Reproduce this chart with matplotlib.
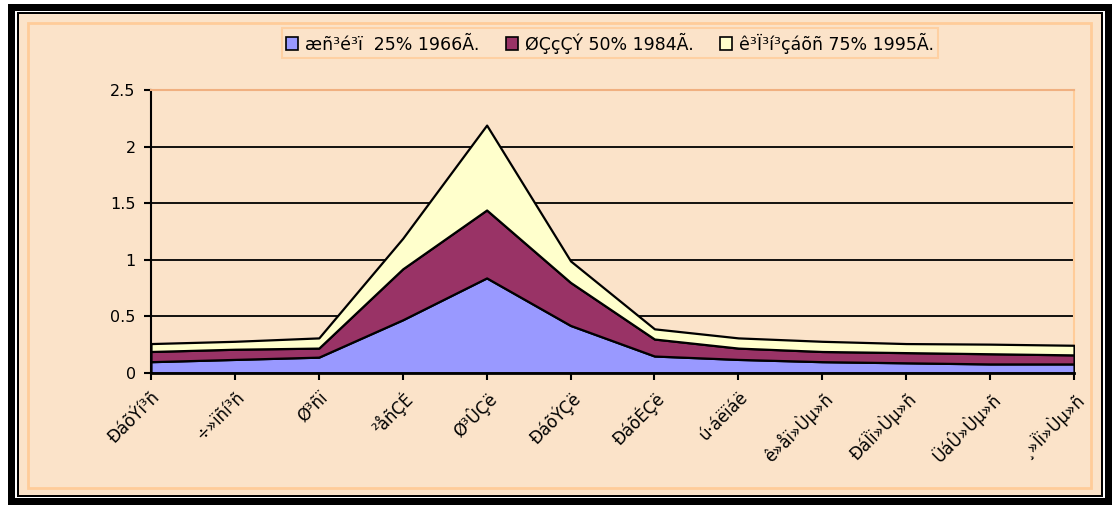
import matplotlib.pyplot as plt
from matplotlib.patches import Rectangle, Patch

# category labels (ArmSCII text as shown in the source)
months = ['ÐáõÝí³ñ', '÷»ïñí³ñ', 'Ø³ñï', '²åñÇÉ', 'Ø³ÛÇë', 'ÐáõÝÇë',
          'ÐáõÉÇë', 'ú·áëïáë', 'ê»åï»Ùµ»ñ', 'ÐáÏï»Ùµ»ñ', 'ÜáÛ»Ùµ»ñ', '¸»Ïï»Ùµ»ñ']

series_names = ['æñ³é³ï  25% 1966Ã.', 'ØÇçÇÝ 50% 1984Ã.', 'ê³Ï³í³çáõñ 75% 1995Ã.']
wet = [0.10, 0.12, 0.14, 0.47, 0.84, 0.42, 0.15, 0.12, 0.10, 0.09, 0.08, 0.08]
mid = [0.09, 0.09, 0.08, 0.45, 0.60, 0.38, 0.15, 0.10, 0.09, 0.09, 0.09, 0.08]
dry = [0.07, 0.07, 0.09, 0.27, 0.75, 0.19, 0.09, 0.09, 0.09, 0.08, 0.085, 0.085]

colors = ['#9999FF', '#993366', '#FFFFCC']
beige = '#FBE3C9'
orange = '#FFCC99'

W, H = 1112, 505
fig = plt.figure(figsize=(W / 100, H / 100), dpi=100)
fig.patch.set_facecolor('white')


def frame(x0, y0, x1, y1, fc='none', ec='none', lw=0):
    # rectangle in pixel coords, origin top-left
    fig.patches.append(Rectangle((x0 / W, 1 - y1 / H), (x1 - x0) / W, (y1 - y0) / H,
                                 transform=fig.transFigure, facecolor=fc,
                                 edgecolor=ec, linewidth=lw, zorder=-10))


frame(8, 4, W, H, fc='black')
frame(15, 11, 1105, 498, fc='white')
frame(17, 12, 1103, 497, fc='black')
frame(19, 14, 1101, 495, fc=beige)
frame(28, 23, 1091, 488, ec=orange, lw=2)

ax = fig.add_axes([151 / W, 1 - 373 / H, (1074 - 151) / W, (373 - 90) / H])
ax.set_facecolor(beige)

x = list(range(len(months)))
ax.stackplot(x, wet, mid, dry, colors=colors, edgecolor='black', linewidth=1.6, zorder=3)

ax.set_xlim(0, len(months) - 1)
ax.set_ylim(0, 2.5)
ax.set_yticks([0, 0.5, 1, 1.5, 2, 2.5])
ax.set_yticklabels(['0', '0.5', '1', '1.5', '2', '2.5'], fontsize=11.5)
ax.set_xticks(x)
ax.set_xticklabels(months, rotation=45, ha='right', rotation_mode='anchor', fontsize=12)
ax.tick_params(axis='both', direction='out', length=5, width=1.5, colors='black')
ax.tick_params(axis='x', pad=6)
ax.tick_params(axis='y', pad=6)

for yv in [0.5, 1, 1.5, 2]:
    ax.axhline(yv, color='black', linewidth=1.3, zorder=1)

ax.spines['top'].set_color('#F0B080')
ax.spines['top'].set_linewidth(1.5)
ax.spines['right'].set_color(orange)
ax.spines['right'].set_linewidth(1.5)
ax.spines['left'].set_linewidth(1.5)
ax.spines['bottom'].set_linewidth(2)
ax.spines['bottom'].set_zorder(5)

handles = [Patch(facecolor=c, edgecolor='black', linewidth=1.2) for c in colors]
leg = fig.legend(handles, series_names, ncol=3, loc='center',
                 bbox_to_anchor=(610 / W, 1 - 43 / H), fontsize=12.5,
                 frameon=True, fancybox=False, handlelength=0.7, handleheight=0.7,
                 handletextpad=0.4, columnspacing=1.5, borderpad=0.25)
leg.get_frame().set_edgecolor(orange)
leg.get_frame().set_facecolor(beige)
leg.get_frame().set_linewidth(1.5)

fig.savefig('out.png', dpi=100, facecolor=fig.get_facecolor())
